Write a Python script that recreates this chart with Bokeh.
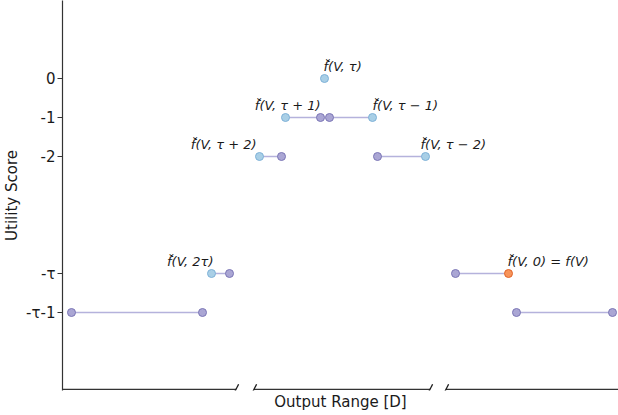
from bokeh.plotting import figure
from bokeh.models import ColumnDataSource, FixedTicker, Range1d, Arrow
from bokeh.core.properties import value
from bokeh.embed import file_html
from bokeh.resources import INLINE

# ---- data (x in output-range units, y in utility score) ----
seg_x0 = [285, 329, 259, 377, 211, 455, 71, 516]
seg_x1 = [320, 372, 281, 425, 229, 508, 202, 612]
seg_y = [-1, -1, -2, -2, -5, -5, -6, -6]

pt_x = [324, 285, 320, 329, 372, 259, 281, 377, 425, 211, 229, 455, 508, 71, 202, 516, 612]
pt_y = [0, -1, -1, -1, -1, -2, -2, -2, -2, -5, -5, -5, -5, -6, -6, -6, -6]
pt_kind = ["lb", "lb", "pu", "pu", "lb", "lb", "pu", "pu", "lb", "lb", "pu", "pu", "or", "pu", "pu", "pu", "pu"]

lab_text = ["f\u0306(V, \u03c4)", "f\u0306(V, \u03c4 + 1)", "f\u0306(V, \u03c4 \u2212 1)",
            "f\u0306(V, \u03c4 + 2)", "f\u0306(V, \u03c4 \u2212 2)", "f\u0306(V, 2\u03c4)",
            "f\u0306(V, 0) = f(V)"]
lab_x = [323, 320, 372, 256, 420, 213, 507]
lab_y = [0, -1, -1, -2, -2, -5, -5]
lab_align = ["left", "right", "left", "right", "left", "right", "left"]

y_ticks = [0, -1, -2, -5, -6]
y_tick_labels = ["0", "-1", "-2", "-\u03c4", "-\u03c4-1"]

break_x = [235.5, 253.5, 429.5, 445.5]
axis_y = -7.97
x_lo, x_hi = 62, 618

fill_map = {"lb": "#a9cfe6", "pu": "#aaa6d4", "or": "#f7945a"}
edge_map = {"lb": "#7fb2d8", "pu": "#7c77b6", "or": "#e0652a"}

p = figure(frame_width=556, frame_height=390, output_backend="svg", toolbar_location=None,
           x_range=Range1d(x_lo, x_hi), y_range=Range1d(-8.0, 2.0),
           min_border_top=0, min_border_right=0, min_border_bottom=0, min_border_left=0)
p.outline_line_color = None
p.xgrid.visible = False
p.ygrid.visible = False
p.background_fill_color = "white"
p.border_fill_color = "white"

# y axis
ya = p.yaxis[0]
ya.ticker = FixedTicker(ticks=y_ticks)
ya.major_label_overrides = {t: l for t, l in zip(y_ticks, y_tick_labels)}
ya.minor_tick_line_color = None
ya.major_tick_out = 5
ya.major_tick_in = 0
ya.major_label_standoff = 2
ya.major_label_text_font = "DejaVu Sans"
ya.major_label_text_font_size = "15px"
ya.major_label_text_color = "#1a1a1a"
ya.axis_line_color = "#333333"
ya.axis_line_width = 1.2
ya.major_tick_line_color = "#333333"
ya.axis_label = "Utility Score"
ya.axis_label_text_font = "DejaVu Sans"
ya.axis_label_text_font_size = "15px"
ya.axis_label_text_font_style = "normal"
ya.axis_label_text_color = "#1a1a1a"
ya.axis_label_standoff = 2

# x axis: label only, line drawn manually with breaks
xa = p.xaxis[0]
xa.ticker = FixedTicker(ticks=[])
xa.axis_line_color = None
xa.major_tick_line_color = None
xa.minor_tick_line_color = None
xa.major_label_standoff = 0
xa.major_tick_out = 0
xa.axis_label = "Output Range [D]"
xa.axis_label_text_font = "DejaVu Sans"
xa.axis_label_text_font_size = "15px"
xa.axis_label_text_font_style = "normal"
xa.axis_label_text_color = "#1a1a1a"
xa.axis_label_standoff = 2

ax_x0 = [x_lo, break_x[1], break_x[3]]
ax_x1 = [break_x[0], break_x[2], x_hi]
p.segment(x0=ax_x0, x1=ax_x1, y0=[axis_y] * 3, y1=[axis_y] * 3,
          line_color="#333333", line_width=1.2)
for bx in break_x:
    p.add_layout(Arrow(end=None, x_start=bx - 2.6, y_start=axis_y - 0.13,
                       x_end=bx + 2.6, y_end=axis_y + 0.13,
                       line_color="#1a1a1a", line_width=1.3))

# segments
p.segment(x0=seg_x0, x1=seg_x1, y0=seg_y, y1=seg_y, line_color="#b5b2dc", line_width=1.6)

# points
src = ColumnDataSource(dict(x=pt_x, y=pt_y,
                            fill=[fill_map[k] for k in pt_kind],
                            edge=[edge_map[k] for k in pt_kind]))
p.scatter(x="x", y="y", source=src, size=8, fill_color="fill", line_color="edge", line_width=1)

# labels
lsrc = ColumnDataSource(dict(x=lab_x, y=lab_y, text=lab_text, align=lab_align))
p.text(x="x", y="y", text="text", source=lsrc, text_align="align", text_baseline="bottom",
       y_offset=-5, text_font=value("DejaVu Sans"), text_font_size="13px",
       text_font_style="italic", text_color="#1a1a1a")

open("out.html", "w").write(file_html(p, INLINE))
